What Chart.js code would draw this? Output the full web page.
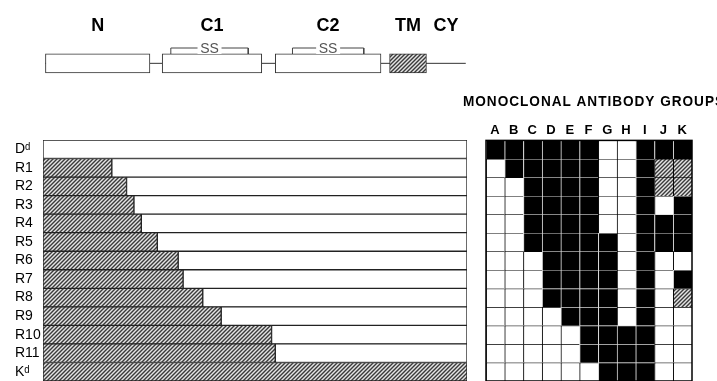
<!DOCTYPE html>
<html>
<head>
<meta charset="utf-8">
<script src="https://cdn.jsdelivr.net/npm/chart.js@4/dist/chart.umd.min.js"></script>
<style>
  html, body { margin: 0; padding: 0; background: #fff; overflow: hidden; }
  body { width: 717px; height: 381px; position: relative; }
  .box { position: absolute; }
</style>
</head>
<body>
<div class="box" style="left:43px;top:0;width:424px;height:100px"><canvas id="chartDomains"></canvas></div>
<div class="box" style="left:0;top:140px;width:467px;height:241px"><canvas id="chartRecombinants"></canvas></div>
<div class="box" style="left:463px;top:90px;width:262px;height:291px"><canvas id="chartAntibodies"></canvas></div>
<script>
// molecule map, residue positions
const domainNames = ["N", "C1", "C2", "TM", "CY"];
const domainStart = [2, 97, 189, 282, 312];
const domainEnd = [87, 178, 275, 312, 344];
const disulfideFrom = [104, 203];
const disulfideTo = [167, 261];
const seqLength = 345;

// recombinant molecules: length of the Kd-derived (hatched) part from the N end
const molecules = ["Dᵈ", "R1", "R2", "R3", "R4", "R5", "R6", "R7", "R8", "R9", "R10", "R11", "Kᵈ"];
const kdPart = [0, 56, 68, 74, 80, 93, 110, 114, 130, 145, 186, 189, 345];

// antibody groups, 1 = reactive, 0 = not reactive, 2 = partial
const groups = ["A", "B", "C", "D", "E", "F", "G", "H", "I", "J", "K"];
const reactivity = [
  [1, 1, 1, 1, 1, 1, 0, 0, 1, 1, 1],
  [0, 1, 1, 1, 1, 1, 0, 0, 1, 2, 2],
  [0, 0, 1, 1, 1, 1, 0, 0, 1, 2, 2],
  [0, 0, 1, 1, 1, 1, 0, 0, 1, 0, 1],
  [0, 0, 1, 1, 1, 1, 0, 0, 1, 1, 1],
  [0, 0, 1, 1, 1, 1, 1, 0, 1, 1, 1],
  [0, 0, 0, 1, 1, 1, 1, 0, 1, 0, 0],
  [0, 0, 0, 1, 1, 1, 1, 0, 1, 0, 1],
  [0, 0, 0, 1, 1, 1, 1, 0, 1, 0, 2],
  [0, 0, 0, 0, 1, 1, 1, 0, 1, 0, 0],
  [0, 0, 0, 0, 0, 1, 1, 1, 1, 0, 0],
  [0, 0, 0, 0, 0, 1, 1, 1, 1, 0, 0],
  [0, 0, 0, 0, 0, 0, 1, 1, 1, 0, 0],
];

function makeHatch() {
  const c = document.createElement("canvas");
  c.width = 4;
  c.height = 4;
  const g = c.getContext("2d");
  g.fillStyle = "#e4e4e4";
  g.fillRect(0, 0, 4, 4);
  g.strokeStyle = "#3a3a3a";
  g.lineWidth = 1.4;
  g.beginPath();
  g.moveTo(0, 4); g.lineTo(4, 0);
  g.moveTo(-1, 1); g.lineTo(1, -1);
  g.moveTo(3, 5); g.lineTo(5, 3);
  g.stroke();
  return g.createPattern(c, "repeat");
}
const hatch = makeHatch();

Chart.defaults.font.family = "'Liberation Sans', Arial, sans-serif";
Chart.defaults.color = "#000";
Chart.defaults.animation = false;
Chart.defaults.plugins.legend.display = false;
Chart.defaults.plugins.tooltip.enabled = false;

// ---- domain map ----
const boxTop = 0.95;
const bracketTop = 2.3;
const brackets = disulfideFrom.map((a, i) => ({
  type: "line",
  data: [
    { x: a, y: boxTop }, { x: a, y: bracketTop },
    { x: disulfideTo[i], y: bracketTop }, { x: disulfideTo[i], y: boxTop },
  ],
  borderColor: "#444",
  borderWidth: 1,
  pointRadius: 0,
  tension: 0,
}));

const domainLabels = {
  id: "domainLabels",
  afterDatasetsDraw(chart) {
    const { ctx, scales } = chart;
    ctx.save();
    ctx.textAlign = "center";
    ctx.textBaseline = "middle";
    ctx.font = "14px 'Liberation Sans', Arial, sans-serif";
    disulfideFrom.forEach((a, i) => {
      const x = scales.x.getPixelForValue((a + disulfideTo[i]) / 2);
      const y = scales.y.getPixelForValue(bracketTop);
      ctx.fillStyle = "#fff";
      ctx.fillRect(x - 12, y - 6, 24, 12);
      ctx.fillStyle = "#555";
      ctx.fillText("SS", x, y + 1);
    });
    ctx.font = "bold 18px 'Liberation Sans', Arial, sans-serif";
    ctx.fillStyle = "#000";
    domainNames.forEach((name, i) => {
      const x = scales.x.getPixelForValue((domainStart[i] + domainEnd[i]) / 2);
      ctx.fillText(name, x, 26);
    });
    ctx.restore();
  },
};

new Chart(document.getElementById("chartDomains"), {
  type: "bar",
  data: {
    datasets: [
      {
        data: domainNames.slice(0, 4).map((n, i) => ({ x: [domainStart[i], domainEnd[i]], y: 0 })),
        backgroundColor: ["#fff", "#fff", "#fff", hatch],
        borderColor: "#333",
        borderWidth: 1,
        borderSkipped: false,
        barThickness: 19,
      },
      ...brackets,
      {
        type: "line",
        data: [{ x: domainStart[0], y: 0 }, { x: domainEnd[4], y: 0 }],
        borderColor: "#333",
        borderWidth: 1,
        pointRadius: 0,
      },
    ],
  },
  options: {
    indexAxis: "y",
    responsive: true,
    maintainAspectRatio: false,
    layout: { padding: 0 },
    scales: {
      x: { type: "linear", min: 0, max: seqLength, display: false },
      y: { type: "linear", min: -3, max: 7, display: false },
    },
  },
  plugins: [domainLabels],
});

// ---- recombinant molecules ----
new Chart(document.getElementById("chartRecombinants"), {
  type: "bar",
  data: {
    labels: molecules,
    datasets: [
      {
        data: kdPart,
        backgroundColor: hatch,
        borderColor: "#222",
        borderWidth: 1,
        borderSkipped: false,
      },
      {
        data: kdPart.map((v) => seqLength - v),
        backgroundColor: "#fff",
        borderColor: "#222",
        borderWidth: 1,
        borderSkipped: false,
      },
    ],
  },
  options: {
    indexAxis: "y",
    responsive: true,
    maintainAspectRatio: false,
    layout: { padding: { left: 15 } },
    datasets: { bar: { barPercentage: 1, categoryPercentage: 1 } },
    scales: {
      x: { stacked: true, min: 0, max: seqLength, display: false },
      y: {
        stacked: true,
        grid: { display: false, drawTicks: false },
        border: { display: false },
        ticks: { autoSkip: false, crossAlign: "far", padding: 0, font: { size: 14 }, color: "#000" },
        afterFit(scale) {
          scale.width = 28;
          scale.paddingTop = 0;
          scale.paddingBottom = 0;
        },
      },
    },
  },
});

// ---- antibody reactivity grid ----
const cellFill = [ "#fff", "#000", hatch ];
const cellEdge = [ "#000", "#d8d8d8", "#000" ];

const gridFrame = {
  id: "gridFrame",
  beforeDraw(chart) {
    chart.ctx.letterSpacing = "1px";
  },
  afterDatasetsDraw(chart) {
    const { ctx, chartArea: a } = chart;
    ctx.save();
    ctx.strokeStyle = "#000";
    ctx.lineWidth = 1.5;
    ctx.strokeRect(a.left, a.top, a.right - a.left, a.bottom - a.top);
    ctx.restore();
  },
  afterDraw(chart) {
    chart.ctx.letterSpacing = "0px";
  },
};

const hiddenAxis = (width, position) => ({
  position,
  grid: { display: false, drawTicks: false },
  border: { display: false },
  ticks: { display: false },
  afterFit(scale) { scale.width = width; },
});

new Chart(document.getElementById("chartAntibodies"), {
  type: "bar",
  data: {
    labels: groups,
    datasets: reactivity.map((row) => ({
      data: row.map(() => 1),
      backgroundColor: row.map((v) => cellFill[v]),
      borderColor: row.map((v) => cellEdge[v]),
      borderWidth: { top: 1, left: 1, right: 0, bottom: 0 },
      borderSkipped: false,
    })),
  },
  options: {
    responsive: true,
    maintainAspectRatio: false,
    datasets: { bar: { barPercentage: 1, categoryPercentage: 1 } },
    plugins: {
      title: {
        display: true,
        text: "MONOCLONAL ANTIBODY GROUPS",
        align: "start",
        color: "#000",
        font: { size: 14, weight: "bold" },
        padding: { top: 4, bottom: 10 },
      },
    },
    scales: {
      x: {
        position: "top",
        stacked: true,
        grid: { display: false, drawTicks: false },
        border: { display: false },
        ticks: { font: { size: 13, weight: "bold" }, color: "#000", padding: 2 },
      },
      y: {
        ...hiddenAxis(23, "left"),
        stacked: true,
        min: 0,
        max: reactivity.length,
        reverse: true,
      },
      yRight: { ...hiddenAxis(33, "right"), min: 0, max: 1 },
    },
  },
  plugins: [gridFrame],
});
</script>
</body>
</html>
